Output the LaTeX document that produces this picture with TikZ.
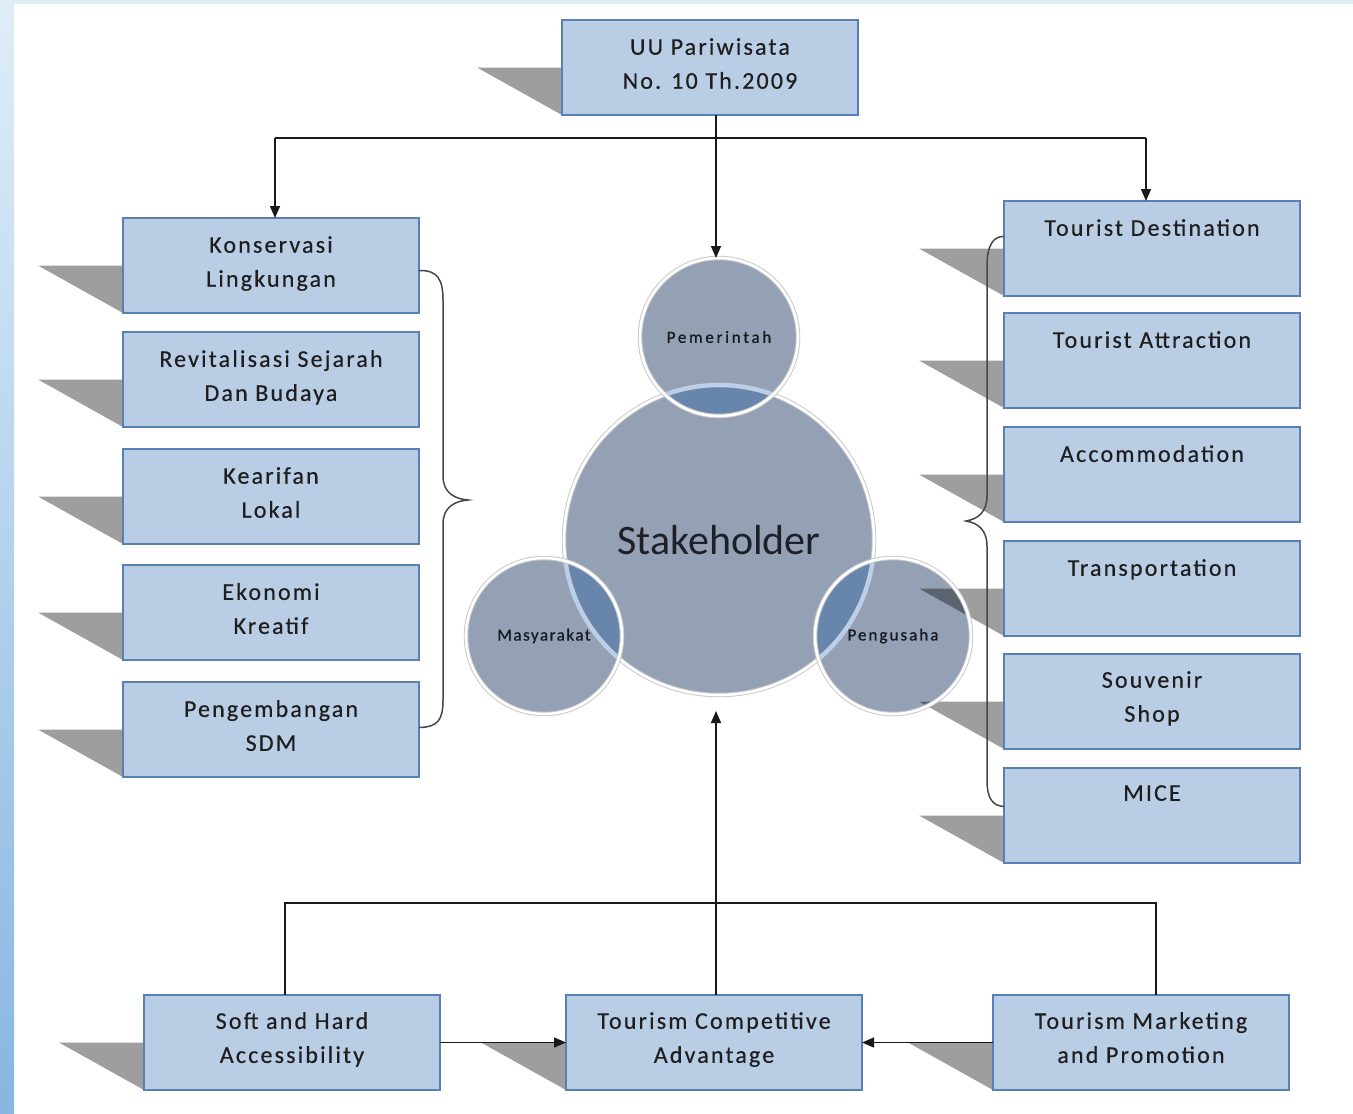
\documentclass[tikz,border=0pt]{standalone}
\usepackage{fontspec}
\setmainfont{Carlito}
\usetikzlibrary{arrows.meta,calc}
\definecolor{boxfill}{RGB}{185,205,229}
\definecolor{boxline}{RGB}{88,128,182}
\definecolor{circfill}{RGB}{148,161,180}
\definecolor{overlapc}{RGB}{104,134,172}
\definecolor{rimblue}{RGB}{180,208,238}
\definecolor{rimgrey}{RGB}{200,200,204}
\definecolor{txt}{RGB}{30,30,30}
\definecolor{ctxt}{RGB}{22,25,32}
\definecolor{stripTop}{RGB}{222,238,247}
\definecolor{stripBot}{RGB}{135,182,226}
\definecolor{bracec}{RGB}{70,70,70}
\pgfdeclarelayer{back}
\pgfdeclarelayer{cfill}
\pgfdeclarelayer{shad}
\pgfdeclarelayer{cline}
\pgfsetlayers{back,cfill,shad,cline,main}
\newcommand\shadowof[1]{\fill[shadowc] ($(#1.west)+(-85,0)$) -- (#1.west) -- (#1.south west) -- cycle;}
\begin{document}
\begin{tikzpicture}[x=1pt,y=-1pt,
  box/.style={draw=boxline, line width=1.4pt, fill=boxfill, minimum width=296pt, minimum height=95pt, inner sep=0pt, outer sep=0pt, anchor=north west},
  lbl/.style={anchor=north, inner sep=0pt, align=center, text=txt, font=\fontsize{24}{34}\selectfont\addfontfeatures{LetterSpace=9,FakeBold=0.4}},
  circnode/.style={circle, inner sep=0pt, outer sep=0pt, text=ctxt},
  smallc/.style={font=\fontsize{17}{20}\selectfont\addfontfeatures{LetterSpace=#1,FakeBold=0.8}},
  shadowc/.style={fill=black, fill opacity=0.38},
  conn/.style={draw=black!90, line width=1.5pt},
  arrow/.style={conn, -{Triangle[length=12pt,width=10pt]}},
  bracestyle/.style={draw=bracec, line width=1.5pt},
  rimout/.style={draw=rimgrey, line width=4.5pt},
  rimin/.style={draw=white, line width=2.6pt}]
\useasboundingbox (0,0) rectangle (1353,1114);
\begin{pgfonlayer}{back}
\fill[white] (0,0) rectangle (1353,1114);
\shade[top color=stripTop, bottom color=stripBot] (0,0) rectangle (14,1114);
\fill[stripTop] (0,0) rectangle (1353,4);
\end{pgfonlayer}

% boxes
\node[box] (uu) at (562,20) {};
\node[lbl] (uu-t) at ($(uu.north)+(0,18)$) {UU Pariwisata\\No. 10 Th.2009};

\node[box] (kons) at (123,218) {};
\node[lbl] (kons-t) at ($(kons.north)+(0,18)$) {Konservasi\\Lingkungan};
\node[box] (rev) at (123,332) {};
\node[lbl] (rev-t) at ($(rev.north)+(0,18)$) {Revitalisasi Sejarah\\Dan Budaya};
\node[box] (kea) at (123,449) {};
\node[lbl] (kea-t) at ($(kea.north)+(0,18)$) {Kearifan\\Lokal};
\node[box] (eko) at (123,565) {};
\node[lbl] (eko-t) at ($(eko.north)+(0,18)$) {Ekonomi\\Kreatif};
\node[box] (pgb) at (123,682) {};
\node[lbl] (pgb-t) at ($(pgb.north)+(0,18)$) {Pengembangan\\SDM};

\node[box] (td) at (1004,201) {};
\node[lbl] (td-t) at ($(td.north)+(0,18)$) {Tourist Destination};
\node[box] (ta) at (1004,313) {};
\node[lbl] (ta-t) at ($(ta.north)+(0,18)$) {Tourist Attraction};
\node[box] (acc) at (1004,427) {};
\node[lbl] (acc-t) at ($(acc.north)+(0,18)$) {Accommodation};
\node[box] (trans) at (1004,541) {};
\node[lbl] (trans-t) at ($(trans.north)+(0,18)$) {Transportation};
\node[box] (souv) at (1004,654) {};
\node[lbl] (souv-t) at ($(souv.north)+(0,17)$) {Souvenir\\Shop};
\node[box] (mice) at (1004,768) {};
\node[lbl] (mice-t) at ($(mice.north)+(0,17)$) {MICE};

\node[box] (soft) at (144,995) {};
\node[lbl] (soft-t) at ($(soft.north)+(0,17)$) {Soft and Hard\\Accessibility};
\node[box] (tca) at (566,995) {};
\node[lbl] (tca-t) at ($(tca.north)+(0,17)$) {Tourism Competitive\\Advantage};
\node[box] (tmp) at (993,995) {};
\node[lbl] (tmp-t) at ($(tmp.north)+(0,17)$) {Tourism Marketing\\and Promotion};

% circles
\node[circnode, minimum size=310pt, font=\fontsize{42}{44}\selectfont, text={rgb,255:red,30;green,32;blue,40}] (stake) at (719,540) {Stakeholder};
\node[circnode, minimum size=158pt, smallc=16] (pem) at (719,337) {Pemerintah};
\node[circnode, minimum size=156pt, smallc=9] (masy) at (544,636) {Masyarakat};
\node[circnode, minimum size=156pt, smallc=12] (peng) at (893,636) {Pengusaha};

\begin{pgfonlayer}{cfill}
\fill[circfill] (stake.center) circle (155);
\fill[circfill] (pem.center) circle (79);
\fill[circfill] (masy.center) circle (78);
\fill[circfill] (peng.center) circle (78);
\begin{scope}\clip (pem.center) circle (79); \fill[overlapc] (stake.center) circle (155);\end{scope}
\begin{scope}\clip (masy.center) circle (78); \fill[overlapc] (stake.center) circle (155);\end{scope}
\begin{scope}\clip (peng.center) circle (78); \fill[overlapc] (stake.center) circle (155);\end{scope}
\end{pgfonlayer}

\begin{pgfonlayer}{shad}
\shadowof{uu}
\shadowof{kons}\shadowof{rev}\shadowof{kea}\shadowof{eko}\shadowof{pgb}
\shadowof{td}\shadowof{ta}\shadowof{acc}\shadowof{trans}\shadowof{souv}\shadowof{mice}
\shadowof{soft}\shadowof{tca}\shadowof{tmp}
\end{pgfonlayer}

\begin{pgfonlayer}{cline}
\draw[rimout] (stake.center) circle (155);
\draw[rimin] (stake.center) circle (155);
\begin{scope}\clip (pem.center) circle (79); \draw[rimblue, line width=3pt] (stake.center) circle (155);\end{scope}
\begin{scope}\clip (masy.center) circle (78); \draw[rimblue, line width=3pt] (stake.center) circle (155);\end{scope}
\begin{scope}\clip (peng.center) circle (78); \draw[rimblue, line width=3pt] (stake.center) circle (155);\end{scope}
\draw[rimout] (pem.center) circle (79);
\draw[rimin] (pem.center) circle (79);
\draw[rimout] (masy.center) circle (78);
\draw[rimin] (masy.center) circle (78);
\draw[rimout] (peng.center) circle (78);
\draw[rimin] (peng.center) circle (78);
\end{pgfonlayer}

% top connectors
\coordinate (j1) at (716,138);
\coordinate (hl) at (275,138);
\coordinate (hr) at (1146,138);
\draw[conn] (uu.south -| j1) -- (j1);
\draw[arrow] (j1) -- (j1 |- pem.north);
\draw[conn] (hl) -- (hr);
\draw[arrow] (hl) -- (hl |- kons.north);
\draw[arrow] (hr) -- (hr |- td.north);

% bottom connectors
\coordinate (bl) at (285,903);
\coordinate (bm) at (716,903);
\coordinate (br) at (1156,903);
\draw[conn] (bl |- soft.north) -- (bl) -- (br) -- (br |- tmp.north);
\draw[arrow] (bm |- tca.north) -- ($(bm |- stake.south)+(0,16)$);
\draw[arrow] (soft.east) -- (tca.west);
\draw[arrow] (tmp.west) -- (tca.east);

% braces
\draw[bracestyle] ($(kons.east)+(0,5)$) .. controls (438,270) and (443,280) .. (443,300)
  -- (443,476) .. controls (443,493) and (455,499) .. (468,500)
  .. controls (455,501) and (443,507) .. (443,524)
  -- (443,700) .. controls (443,720) and (438,727) .. ($(pgb.east)+(0,-2)$);
\draw[bracestyle] ($(td.west)+(0,-12)$) .. controls (993,236) and (987,246) .. (987,266)
  -- (987,496) .. controls (987,512) and (978,519) .. (966,521)
  .. controls (978,523) and (987,530) .. (987,546)
  -- (987,780) .. controls (987,799) and (993,806) .. ($(mice.west)+(0,-9)$);
\end{tikzpicture}
\end{document}
